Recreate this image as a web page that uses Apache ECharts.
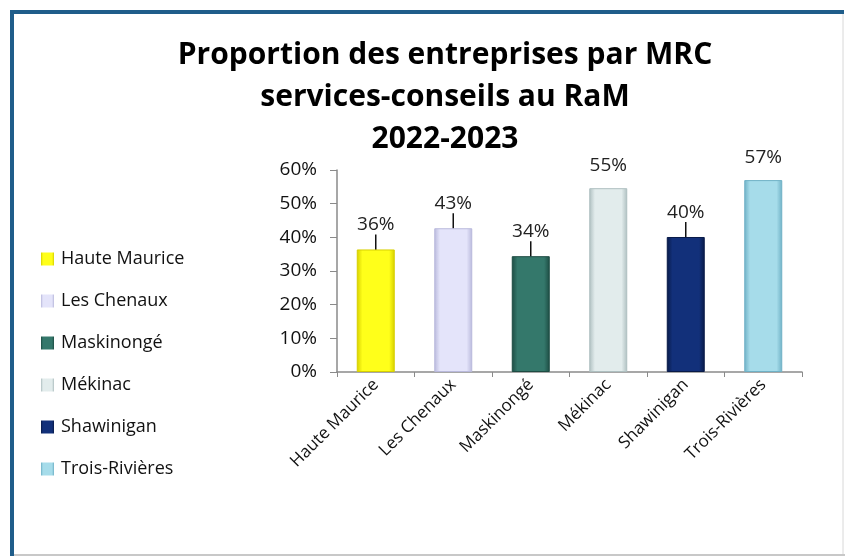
<!DOCTYPE html>
<html>
<head>
<meta charset="utf-8">
<script src="https://cdn.jsdelivr.net/npm/echarts@6/dist/echarts.min.js"></script>
<style>
  html, body { margin: 0; padding: 0; background: #fff; }
  #chart { width: 845px; height: 557px; }
</style>
</head>
<body>
<div id="chart"></div>
<script>
// MRC names and share of companies (fraction)
const mrcNames = ['Haute Maurice', 'Les Chenaux', 'Maskinongé', 'Mékinac', 'Shawinigan', 'Trois-Rivières']
const proportions = [0.364, 0.427, 0.344, 0.546, 0.401, 0.570]
const yTicks = [0, 0.1, 0.2, 0.3, 0.4, 0.5, 0.6]

// bar colours: [edge, centre]
const barColors = [
  ['#d6cf00', '#ffff1a'],
  ['#b9b9dc', '#e4e4fa'],
  ['#1d4c43', '#34786b'],
  ['#aebfc0', '#e2ecec'],
  ['#081a48', '#12307a'],
  ['#6fb1c6', '#a6dcea']
]
// which labels get a leader line
const withLine = [true, true, true, false, true, false]

const chart = echarts.init(document.getElementById('chart'))
const font = 'Open Sans'

function bevel(c) {
  return new echarts.graphic.LinearGradient(0, 0, 1, 0, [
    { offset: 0, color: c[0] },
    { offset: 0.15, color: c[1] },
    { offset: 0.85, color: c[1] },
    { offset: 1, color: c[0] }
  ])
}

const series = mrcNames.map((name, i) => ({
  name: name,
  type: 'bar',
  stack: 'mrc',
  barWidth: 38,
  data: mrcNames.map((n, j) => (j === i ? proportions[j] : '-')),
  itemStyle: {
    color: bevel(barColors[i]),
    borderColor: barColors[i][0],
    borderWidth: 1
  },
  label: {
    show: true,
    position: 'top',
    distance: withLine[i] ? 4 : 13,
    fontFamily: font,
    fontSize: 19,
    color: '#222',
    formatter: p => Math.round(p.value * 100) + '%'
  },
  labelLayout: withLine[i] ? { dy: -11 } : null,
  labelLine: {
    show: withLine[i],
    lineStyle: { color: '#111', width: 1.5 }
  }
}))

const option = {
  animation: false,
  backgroundColor: '#fff',
  title: {
    text: 'Proportion des entreprises par MRC\nservices-conseils au RaM\n2022-2023',
    left: 440,
    textAlign: 'center',
    top: 29,
    textStyle: {
      fontFamily: font,
      fontWeight: 'bold',
      fontSize: 30,
      lineHeight: 42,
      color: '#000'
    }
  },
  legend: {
    orient: 'vertical',
    left: 36,
    top: 245,
    itemWidth: 13,
    itemHeight: 13,
    itemGap: 24,
    icon: 'rect',
    itemStyle: { borderWidth: 0 },
    textStyle: { fontFamily: font, fontSize: 18, color: '#111', padding: [0, 0, 0, 2] },
    data: mrcNames
  },
  grid: { left: 337, right: 43, top: 170, bottom: 185, containLabel: false },
  xAxis: {
    type: 'category',
    data: mrcNames,
    axisLine: { lineStyle: { color: '#8a8a8a', width: 1.5 } },
    axisTick: { show: true, length: 5, lineStyle: { color: '#8a8a8a' } },
    axisLabel: {
      rotate: 45,
      margin: 10,
      fontFamily: font,
      fontSize: 17,
      color: '#111'
    }
  },
  yAxis: {
    type: 'value',
    min: 0,
    max: 0.6,
    interval: 0.1,
    axisLine: { show: true, lineStyle: { color: '#8a8a8a', width: 1.5 } },
    axisTick: { show: true, length: 7, inside: false, lineStyle: { color: '#8a8a8a' } },
    splitLine: { show: false },
    axisLabel: {
      margin: 20,
      fontFamily: font,
      fontSize: 19,
      color: '#111',
      customValues: yTicks,
      formatter: v => Math.round(v * 100) + '%'
    }
  },
  graphic: [
    { type: 'line', shape: { x1: 12, y1: 12, x2: 844, y2: 12 }, style: { stroke: '#1f5d8a', lineWidth: 4 } },
    { type: 'line', shape: { x1: 12, y1: 10, x2: 12, y2: 556 }, style: { stroke: '#1f5d8a', lineWidth: 4 } },
    { type: 'line', shape: { x1: 843, y1: 14, x2: 843, y2: 556 }, style: { stroke: '#d8d8d8', lineWidth: 1 } },
    { type: 'line', shape: { x1: 14, y1: 555, x2: 845, y2: 555 }, style: { stroke: '#c8c8c8', lineWidth: 2 } }
  ],
  series: series
}

chart.setOption(option)
</script>
</body>
</html>
